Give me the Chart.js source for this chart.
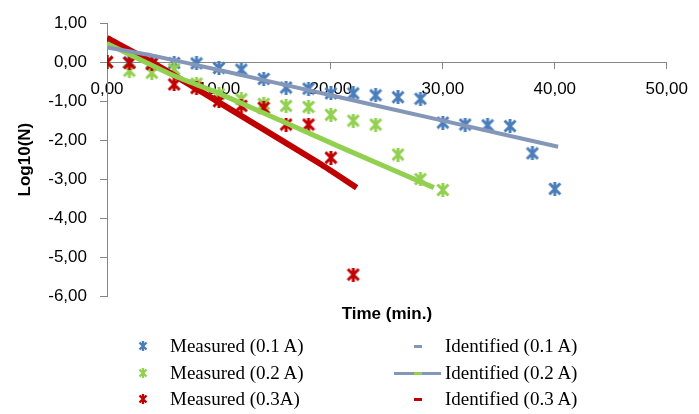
<!DOCTYPE html>
<html lang="en">
<head>
    <meta charset="UTF-8">
    <title>Log10(N) vs Time</title>
    <script src="https://cdn.jsdelivr.net/npm/chart.js@4.4.1/dist/chart.umd.min.js"></script>
    <style>
        body {
            margin: 0;
            padding: 0;
            background: #fff;
        }

        #wrap {
            position: relative;
            width: 699px;
            height: 414px;
        }

        .leg {
            position: absolute;
            font-family: 'Liberation Serif', 'Times New Roman', serif;
            font-size: 19px;
            color: #000;
            line-height: 20px;
            white-space: nowrap;
        }

        .mk {
            position: absolute;
        }
    </style>
</head>
<body>
    <div id="wrap">
        <canvas id="myChart"></canvas>
    </div>

    <script>
        // time axis (min.)
        const timeMeasured = [0, 2, 4, 6, 8, 10, 12, 14, 16, 18, 20, 22, 24, 26, 28, 30, 32, 34, 36, 38, 40];

        // measured log10(N)
        const measured01 = [0.00, 0.00, -0.02, -0.02, -0.03, -0.15, -0.19, -0.43, -0.65, -0.68, -0.80, -0.80, -0.85, -0.90, -0.94, -1.55, -1.60, -1.62, -1.64, -2.34, -3.25];
        const measured02 = [0.00, -0.22, -0.27, -0.18, -0.55, -0.82, -0.95, -1.07, -1.12, -1.15, -1.35, -1.50, -1.60, -2.37, -3.00, -3.28];
        const measured03 = [0.00, -0.02, -0.05, -0.57, -0.66, -1.00, -1.12, -1.17, -1.60, -1.60, -2.45, -5.45];

        // identified model curves
        const timeId01 = [0, 4, 10, 20, 30, 40.3];
        const ident01 = [0.38, 0.17, -0.20, -0.85, -1.50, -2.17];
        const timeId02 = [0, 6, 10, 21, 29.2];
        const ident02 = [0.48, -0.35, -0.80, -2.20, -3.22];
        const timeId03 = [0, 4, 10, 19, 22.3];
        const ident03 = [0.62, 0.00, -1.03, -2.60, -3.22];

        // tick labels
        const xTicks = [0, 10, 20, 30, 40, 50];
        const yTicks = [1, 0, -1, -2, -3, -4, -5, -6];

        const blue = '#4A7EBB';
        const green = '#92D050';
        const red = '#C00000';
        const grey = '#8497B8';

        function starMark(color, size, lw) {
            const c = document.createElement('canvas');
            c.width = size;
            c.height = size;
            const g = c.getContext('2d');
            const m = 1.5;
            const e = size - 1.5;
            g.strokeStyle = color;
            g.lineWidth = lw;
            g.beginPath();
            g.moveTo(m, m); g.lineTo(e, e);
            g.moveTo(e, m); g.lineTo(m, e);
            g.moveTo(size / 2, 0); g.lineTo(size / 2, size);
            g.stroke();
            return c;
        }

        function pairs(xs, ys) {
            return ys.map((y, i) => ({ x: xs[i], y: y }));
        }

        function fmt(v) {
            return v.toFixed(2).replace('.', ',');
        }

        const ctx = document.getElementById('myChart').getContext('2d');
        const myChart = new Chart(ctx, {
            type: 'scatter',
            data: {
                datasets: [
                    {
                        label: 'Identified (0.1 A)',
                        data: pairs(timeId01, ident01),
                        showLine: true,
                        borderColor: grey,
                        borderWidth: 4,
                        pointRadius: 0,
                        tension: 0.2,
                        order: 1
                    },
                    {
                        label: 'Identified (0.2 A)',
                        data: pairs(timeId02, ident02),
                        showLine: true,
                        borderColor: green,
                        borderWidth: 5,
                        pointRadius: 0,
                        tension: 0.2,
                        order: 2
                    },
                    {
                        label: 'Identified (0.3 A)',
                        data: pairs(timeId03, ident03),
                        showLine: true,
                        borderColor: red,
                        borderWidth: 6,
                        pointRadius: 0,
                        tension: 0.2,
                        order: 3
                    },
                    {
                        label: 'Measured (0.3A)',
                        data: pairs(timeMeasured, measured03),
                        pointStyle: starMark(red, 14, 3),
                        order: 4
                    },
                    {
                        label: 'Measured (0.2 A)',
                        data: pairs(timeMeasured, measured02),
                        pointStyle: starMark(green, 14, 3),
                        order: 5
                    },
                    {
                        label: 'Measured (0.1 A)',
                        data: pairs(timeMeasured, measured01),
                        pointStyle: starMark(blue, 14, 3),
                        order: 6
                    }
                ]
            },
            options: {
                responsive: true,
                maintainAspectRatio: false,
                animation: false,
                layout: {
                    padding: { top: 20, right: 28, bottom: 84, left: 0 }
                },
                scales: {
                    x: {
                        type: 'linear',
                        position: { y: 0 },
                        min: 0,
                        max: 50,
                        afterBuildTicks: s => { s.ticks = xTicks.map(v => ({ value: v })); },
                        border: { display: true, color: '#868686', width: 1 },
                        grid: { drawOnChartArea: false, drawTicks: true, tickLength: 6, color: '#868686' },
                        ticks: {
                            padding: 11,
                            color: '#000',
                            font: { family: 'Liberation Sans', size: 17 },
                            callback: v => fmt(v)
                        }
                    },
                    x2: {
                        type: 'linear',
                        position: 'bottom',
                        min: 0,
                        max: 50,
                        afterFit: s => { s.height = 34; },
                        border: { display: false },
                        grid: { display: false },
                        ticks: { display: false },
                        title: {
                            display: true,
                            text: 'Time (min.)',
                            color: '#000',
                            padding: { top: 0, bottom: 5 },
                            font: { family: 'Liberation Sans', size: 17, weight: 'bold' }
                        }
                    },
                    y: {
                        type: 'linear',
                        position: 'left',
                        min: -6,
                        max: 1,
                        afterBuildTicks: s => { s.ticks = yTicks.map(v => ({ value: v })); },
                        afterFit: s => { s.width = 107; },
                        border: { display: true, color: '#868686', width: 1 },
                        grid: { drawOnChartArea: false, drawTicks: true, tickLength: 7, color: '#868686' },
                        ticks: {
                            padding: 13,
                            color: '#000',
                            font: { family: 'Liberation Sans', size: 17 },
                            callback: v => fmt(v)
                        },
                        title: {
                            display: true,
                            text: 'Log10(N)',
                            color: '#000',
                            padding: { top: 15, bottom: 0 },
                            font: { family: 'Liberation Sans', size: 17, weight: 'bold' }
                        }
                    }
                },
                plugins: {
                    legend: { display: false },
                    tooltip: { enabled: false }
                }
            }
        });

        // legend below the chart, two columns
        const wrap = document.getElementById('wrap');
        const legendLeft = [
            { text: 'Measured (0.1 A)', color: blue },
            { text: 'Measured (0.2 A)', color: green },
            { text: 'Measured (0.3A)', color: red }
        ];
        const legendRight = [
            { text: 'Identified (0.1 A)', color: grey },
            { text: 'Identified (0.2 A)', color: green },
            { text: 'Identified (0.3 A)', color: red }
        ];
        const rowY = [346, 373, 399];

        function addBox(x, y, w, h, color) {
            const d = document.createElement('div');
            d.className = 'mk';
            d.style.left = x + 'px';
            d.style.top = y + 'px';
            d.style.width = w + 'px';
            d.style.height = h + 'px';
            d.style.background = color;
            wrap.appendChild(d);
        }

        function addText(x, y, text) {
            const d = document.createElement('div');
            d.className = 'leg';
            d.style.left = x + 'px';
            d.style.top = (y - 10) + 'px';
            d.textContent = text;
            wrap.appendChild(d);
        }

        legendLeft.forEach((item, i) => {
            const m = starMark(item.color, 10, 2.4);
            m.className = 'mk';
            m.style.left = '138px';
            m.style.top = (rowY[i] - 5) + 'px';
            wrap.appendChild(m);
            addText(170, rowY[i], item.text);
        });

        legendRight.forEach((item, i) => {
            if (i === 1) {
                addBox(394, rowY[i] - 1.5, 47, 3, grey);
            }
            addBox(414, rowY[i] - 1.5, 8, 3, item.color);
            addText(445, rowY[i], item.text);
        });
    </script>
</body>
</html>
